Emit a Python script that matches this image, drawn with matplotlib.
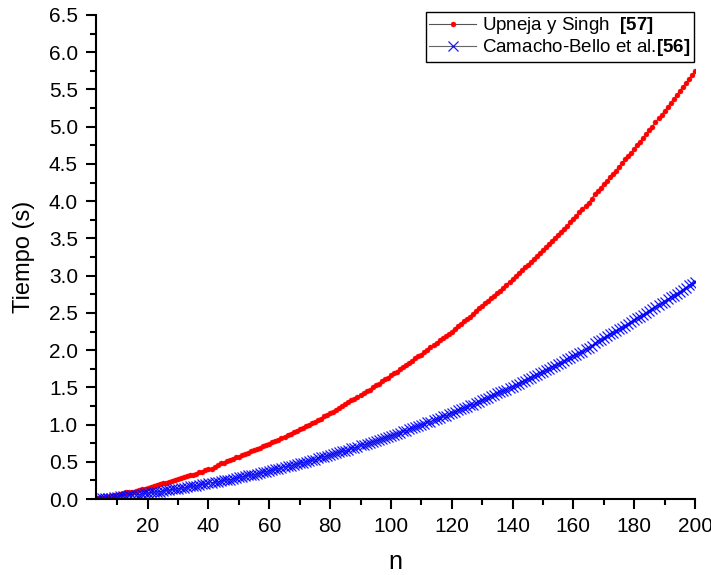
import numpy as np
import matplotlib
matplotlib.use("Agg")
import matplotlib.pyplot as plt
from matplotlib.ticker import MultipleLocator

plt.rcParams['font.family'] = ['Liberation Sans', 'DejaVu Sans']
plt.rcParams['mathtext.fontset'] = 'custom'
plt.rcParams['mathtext.bf'] = 'Liberation Sans:bold'
plt.rcParams['mathtext.rm'] = 'Liberation Sans'

# orden n = 3 ... 200
n = list(range(3, 201))

# tiempo (s) Upneja y Singh [57]
t_upneja = [
    0.00, 0.01, 0.02, 0.03, 0.03, 0.04, 0.05,
    0.06, 0.07, 0.08, 0.09, 0.09, 0.10, 0.11, 0.12, 0.13, 0.14,
    0.15, 0.16, 0.18, 0.19, 0.20, 0.21, 0.22, 0.23, 0.24, 0.26,
    0.27, 0.28, 0.29, 0.31, 0.32, 0.33, 0.34, 0.36, 0.37, 0.39,
    0.40, 0.41, 0.43, 0.46, 0.48, 0.49, 0.51, 0.52, 0.54, 0.56,
    0.57, 0.59, 0.60, 0.62, 0.64, 0.66, 0.67, 0.69, 0.71, 0.73,
    0.74, 0.76, 0.78, 0.80, 0.82, 0.84, 0.86, 0.88, 0.90, 0.92,
    0.94, 0.96, 0.98, 1.00, 1.02, 1.04, 1.06, 1.08, 1.11, 1.13,
    1.15, 1.17, 1.20, 1.22, 1.25, 1.28, 1.30, 1.33, 1.35, 1.37,
    1.40, 1.42, 1.45, 1.47, 1.50, 1.53, 1.55, 1.58, 1.61, 1.63,
    1.66, 1.69, 1.71, 1.74, 1.77, 1.80, 1.83, 1.86, 1.89, 1.92,
    1.94, 1.97, 2.00, 2.04, 2.07, 2.10, 2.13, 2.16, 2.19, 2.22,
    2.25, 2.29, 2.32, 2.35, 2.39, 2.42, 2.45, 2.49, 2.52, 2.56,
    2.59, 2.63, 2.66, 2.70, 2.73, 2.77, 2.80, 2.84, 2.88, 2.92,
    2.95, 2.99, 3.03, 3.07, 3.11, 3.14, 3.18, 3.22, 3.26, 3.30,
    3.34, 3.38, 3.42, 3.47, 3.51, 3.55, 3.59, 3.63, 3.67, 3.72,
    3.76, 3.80, 3.85, 3.89, 3.94, 3.98, 4.03, 4.09, 4.14, 4.18,
    4.23, 4.27, 4.32, 4.37, 4.41, 4.46, 4.51, 4.56, 4.61, 4.65,
    4.70, 4.75, 4.80, 4.85, 4.90, 4.95, 5.00, 5.06, 5.11, 5.16,
    5.21, 5.26, 5.32, 5.37, 5.42, 5.48, 5.53, 5.58, 5.64, 5.69,
    5.75,
]

# tiempo (s) Camacho-Bello et al. [56]
t_camacho = [
    0.00, 0.01, 0.01, 0.01, 0.02, 0.02, 0.03,
    0.03, 0.04, 0.04, 0.04, 0.05, 0.05, 0.06, 0.06, 0.07, 0.08,
    0.08, 0.09, 0.09, 0.10, 0.10, 0.11, 0.12, 0.12, 0.13, 0.13,
    0.14, 0.15, 0.15, 0.16, 0.17, 0.17, 0.18, 0.19, 0.20, 0.20,
    0.21, 0.22, 0.23, 0.23, 0.24, 0.25, 0.26, 0.26, 0.27, 0.28,
    0.29, 0.30, 0.31, 0.32, 0.32, 0.33, 0.34, 0.35, 0.36, 0.37,
    0.38, 0.39, 0.40, 0.41, 0.42, 0.43, 0.44, 0.45, 0.46, 0.47,
    0.48, 0.49, 0.50, 0.51, 0.52, 0.53, 0.55, 0.56, 0.57, 0.58,
    0.59, 0.60, 0.62, 0.63, 0.64, 0.65, 0.66, 0.68, 0.69, 0.70,
    0.72, 0.73, 0.74, 0.75, 0.77, 0.78, 0.79, 0.81, 0.82, 0.84,
    0.85, 0.86, 0.88, 0.89, 0.91, 0.92, 0.94, 0.95, 0.97, 0.98,
    1.00, 1.01, 1.03, 1.04, 1.06, 1.07, 1.09, 1.11, 1.12, 1.14,
    1.16, 1.17, 1.19, 1.21, 1.22, 1.24, 1.26, 1.27, 1.29, 1.31,
    1.33, 1.34, 1.36, 1.38, 1.40, 1.42, 1.44, 1.45, 1.47, 1.49,
    1.51, 1.53, 1.55, 1.57, 1.59, 1.61, 1.63, 1.65, 1.67, 1.69,
    1.71, 1.73, 1.75, 1.77, 1.79, 1.81, 1.83, 1.85, 1.88, 1.90,
    1.92, 1.94, 1.96, 1.98, 2.01, 2.03, 2.05, 2.09, 2.12, 2.14,
    2.16, 2.19, 2.21, 2.23, 2.26, 2.28, 2.30, 2.33, 2.35, 2.38,
    2.40, 2.43, 2.45, 2.47, 2.50, 2.52, 2.55, 2.58, 2.60, 2.63,
    2.65, 2.68, 2.71, 2.73, 2.76, 2.78, 2.81, 2.84, 2.87, 2.89,
    2.92,
]

labels = [r"Upneja y Singh  $\mathbf{[57]}$",
          r"Camacho-Bello et al.$\mathbf{[56]}$"]

fig = plt.figure(figsize=(7.11, 5.75), dpi=100)
ax = fig.add_axes([0.135, 0.132, 0.8425, 0.842])

ax.plot(n, t_upneja, color='#555555', lw=0.8, marker='o', ms=3.6,
        mfc='red', mec='red', mew=0.3, label=labels[0])
ax.plot(n, t_camacho, color='#555555', lw=0.8, marker='x', ms=6.5,
        mec='#0000ff', mew=0.9, alpha=0.9, label=labels[1])

ax.set_xlim(3, 200)
ax.set_ylim(0, 6.5)
ax.xaxis.set_major_locator(MultipleLocator(20))
ax.xaxis.set_minor_locator(MultipleLocator(10))
ax.yaxis.set_major_locator(MultipleLocator(0.5))
ax.yaxis.set_minor_locator(MultipleLocator(0.25))
ax.yaxis.set_major_formatter(plt.FormatStrFormatter('%.1f'))

for side in ['top', 'right']:
    ax.spines[side].set_visible(False)
for side in ['left', 'bottom']:
    ax.spines[side].set_linewidth(1.5)

ax.tick_params(which='major', direction='out', length=7, width=1.5,
               labelsize=15, pad=6)
ax.tick_params(which='minor', direction='out', length=4, width=1.5)

ax.set_xlabel('n', fontsize=18, labelpad=10)
ax.set_ylabel('Tiempo (s)', fontsize=17, labelpad=10)

leg = ax.legend(loc='upper right', bbox_to_anchor=(0.976, 0.98),
                bbox_transform=fig.transFigure, fontsize=13.5,
                frameon=True, fancybox=False, framealpha=1,
                borderaxespad=0, handlelength=2.5, borderpad=0.2,
                labelspacing=0.05, handletextpad=0.3)
leg.get_frame().set_edgecolor('black')
leg.get_frame().set_linewidth(1.0)

fig.savefig('out.png', dpi=100)
